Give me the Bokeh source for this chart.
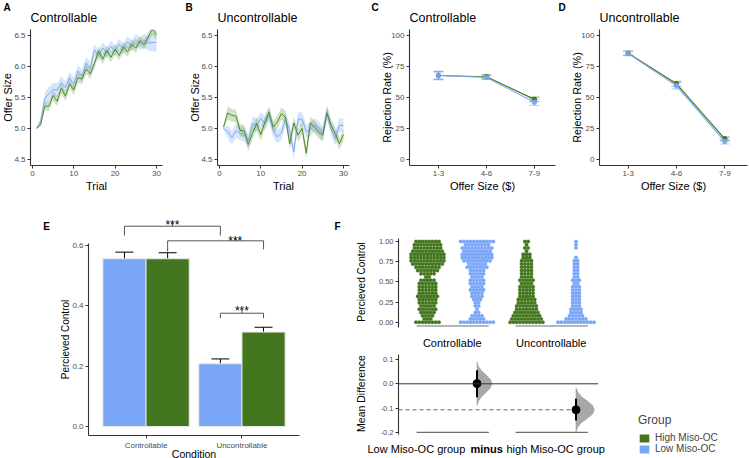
import math
from bokeh.plotting import figure
from bokeh.models import (Range1d, FixedTicker, Whisker, TeeHead, Span, Legend, LegendItem,
                          ColumnDataSource, PrintfTickFormatter, Spacer)
from bokeh.layouts import row, column
from bokeh.core.properties import value, field
from bokeh.embed import file_html
from bokeh.resources import INLINE

# ---------------- data ----------------
trials = list(range(1, 31))
ctrl_high = [5.00, 5.06, 5.36, 5.36, 5.53, 5.44, 5.65, 5.52, 5.72, 5.62,
             5.82, 5.80, 5.96, 5.88, 6.05, 6.25, 6.12, 6.26, 6.15, 6.28,
             6.18, 6.32, 6.24, 6.36, 6.30, 6.42, 6.35, 6.48, 6.60, 6.52]
ctrl_high_se = [0.01, 0.03, 0.07, 0.08, 0.08, 0.08, 0.08, 0.08, 0.08, 0.08,
                0.08, 0.08, 0.08, 0.08, 0.08, 0.08, 0.08, 0.08, 0.08, 0.08,
                0.08, 0.08, 0.08, 0.08, 0.08, 0.08, 0.08, 0.08, 0.08, 0.08]
ctrl_low = [5.00, 5.12, 5.48, 5.56, 5.63, 5.62, 5.74, 5.66, 5.82, 5.72,
            5.93, 5.85, 6.06, 5.97, 6.27, 6.17, 6.30, 6.22, 6.33, 6.25,
            6.36, 6.28, 6.40, 6.33, 6.44, 6.37, 6.42, 6.38, 6.39, 6.39]
ctrl_low_se = [0.01, 0.04, 0.10, 0.11, 0.11, 0.11, 0.10, 0.10, 0.10, 0.10,
               0.10, 0.10, 0.10, 0.10, 0.09, 0.09, 0.09, 0.09, 0.09, 0.09,
               0.09, 0.09, 0.09, 0.09, 0.09, 0.10, 0.11, 0.12, 0.14, 0.15]
unc_high = [5.02, 5.25, 5.21, 5.20, 4.97, 4.96, 4.74, 4.92, 5.08, 4.90,
            5.10, 5.26, 5.02, 5.10, 5.24, 5.18, 4.75, 5.09, 4.89, 5.00,
            4.60, 5.09, 5.02, 4.94, 4.89, 5.25, 5.05, 4.92, 4.75, 4.90]
unc_high_se = [0.02, 0.11, 0.10, 0.10, 0.10, 0.10, 0.10, 0.10, 0.10, 0.10,
               0.10, 0.10, 0.10, 0.10, 0.10, 0.10, 0.10, 0.10, 0.10, 0.10,
               0.10, 0.10, 0.10, 0.10, 0.10, 0.10, 0.10, 0.10, 0.10, 0.10]
unc_low = [5.00, 4.95, 4.85, 4.96, 4.92, 4.90, 4.80, 5.08, 5.05, 5.16,
           5.08, 5.22, 4.98, 4.86, 4.93, 5.15, 4.96, 4.62, 5.15, 5.15,
           4.95, 4.98, 5.06, 5.00, 4.92, 5.28, 5.00, 4.83, 5.05, 5.05]
unc_low_se = [0.02, 0.10, 0.11, 0.11, 0.11, 0.11, 0.11, 0.11, 0.11, 0.11,
              0.11, 0.11, 0.11, 0.11, 0.11, 0.11, 0.11, 0.11, 0.11, 0.11,
              0.11, 0.11, 0.11, 0.11, 0.11, 0.11, 0.11, 0.11, 0.11, 0.11]

offer_bins = ["1-3", "4-6", "7-9"]
rej_ctrl_high = [67.8, 66.8, 48.5]
rej_ctrl_high_err = [3.3, 1.8, 1.8]
rej_ctrl_low = [67.8, 66.2, 46.2]
rej_ctrl_low_err = [2.8, 1.5, 2.5]
rej_unc_high = [85.8, 61.1, 16.6]
rej_unc_high_err = [1.8, 2.0, 1.5]
rej_unc_low = [85.6, 59.5, 14.4]
rej_unc_low_err = [1.8, 2.5, 2.0]

conditions = ["Controllable", "Uncontrollable"]
pc_low = [0.556, 0.208]
pc_low_lo = [0.536, 0.193]
pc_low_hi = [0.578, 0.224]
pc_high = [0.556, 0.313]
pc_high_lo = [0.536, 0.294]
pc_high_hi = [0.576, 0.329]

# significance brackets (E)
br_left = [0.775, 1.225, 1.775]
br_right = [1.775, 2.225, 2.225]
br_mid = [1.275, 1.93, 2.0]
br_top = [0.664, 0.6155, 0.3755]
br_tick = [0.677, 0.6255, 0.3868]
br_leg_left = [0.633, 0.580, 0.359]
br_leg_right = [0.633, 0.587, 0.359]
br_label = ["***", "***", "***"]
br_label_y = [0.667, 0.6165, 0.382]

groups = ["High Miso-OC", "Low Miso-OC"]

# swarm (F top): counts of responses per perceived-control level
pc_levels = [0.00, 0.04, 0.08, 0.12, 0.16, 0.20, 0.24, 0.28, 0.32, 0.36, 0.40, 0.44, 0.48,
             0.52, 0.56, 0.60, 0.64, 0.68, 0.72, 0.76, 0.80, 0.84, 0.88, 0.92, 0.96, 1.00]
sw_ctrl_high = [8, 3, 4, 5, 6, 5, 6, 6, 7, 6, 6, 6, 6, 5, 2, 5, 7, 8, 10, 11, 11, 11, 10, 9, 9, 8]
sw_ctrl_low = [11, 5, 4, 2, 1, 2, 2, 3, 4, 4, 5, 4, 5, 5, 4, 5, 5, 7, 6, 9, 10, 10, 9, 10, 8, 11]
sw_unc_high = [11, 10, 9, 8, 7, 7, 6, 6, 5, 5, 5, 5, 4, 5, 4, 4, 4, 4, 4, 4, 3, 3, 1, 2, 1, 2]
sw_unc_low = [12, 7, 5, 4, 4, 3, 3, 3, 3, 3, 3, 3, 2, 3, 2, 2, 2, 2, 2, 2, 1, 0, 0, 1, 1, 1]

# estimation plot (F bottom)
md_labels = ["Controllable", "Uncontrollable"]
md_value = [0.001, -0.107]
md_lo = [-0.055, -0.151]
md_hi = [0.056, -0.062]
violin_offsets = [-0.09, -0.072, -0.054, -0.036, -0.018, 0.0, 0.018, 0.036, 0.054, 0.072, 0.09]
violin_ctrl = [0.0, 0.1, 0.3, 0.62, 0.9, 1.0, 0.9, 0.6, 0.28, 0.08, 0.0]
violin_unc = [0.0, 0.08, 0.28, 0.6, 0.9, 1.0, 0.9, 0.62, 0.3, 0.1, 0.0]

# ---------------- style ----------------
FONT = "Liberation Sans"
GREEN = "#43761F"
BLUE = "#79A6F7"
GREEN_LINE = "#4F8A2C"
BLUE_LINE = "#7FA9F2"
GREEN_RIB = "#64A03C"
BLUE_RIB = "#78A5F5"
AXC = "#333333"
TICKC = "#4D4D4D"
PAGE_W, PAGE_H = 749, 458

# free texts (titles, panel tags, axis titles) collected for a text layer
T = dict(x=[], y=[], text=[], size=[], style=[], angle=[], align=[])


def txt(px, py, text, size, bold=False, angle=0.0, align="center"):
    T["x"].append(px)
    T["y"].append(py)
    T["text"].append(text)
    T["size"].append(f"{size}px")
    T["style"].append("bold" if bold else "normal")
    T["angle"].append(angle)
    T["align"].append(align)


def base_fig(x0, y0, w, h, frame, xr, yr, xaxis=True, yaxis=True):
    fl, ft, fr, fb = frame
    p = figure(width=w, height=h, x_range=xr, y_range=yr, title=None,
               output_backend="svg", toolbar_location=None,
               min_border_left=fl - x0, min_border_top=ft - y0,
               min_border_right=x0 + w - fr, min_border_bottom=y0 + h - fb,
               x_axis_location="below" if xaxis else None,
               y_axis_location="left" if yaxis else None)
    p.xgrid.visible = False
    p.ygrid.visible = False
    p.outline_line_color = None
    p.background_fill_color = "white"
    p.border_fill_color = "white"
    return p


def style_axis(ax, ticks, fmt=None, overrides=None, size="8px", color=TICKC):
    ax.ticker = FixedTicker(ticks=ticks)
    if fmt:
        ax.formatter = PrintfTickFormatter(format=fmt)
    if overrides:
        ax.major_label_overrides = overrides
    ax.axis_line_color = AXC
    ax.axis_line_width = 1.1
    ax.major_tick_line_color = AXC
    ax.major_tick_out = 3
    ax.major_tick_in = 0
    ax.minor_tick_line_color = None
    ax.major_label_text_font = FONT
    ax.major_label_text_font_size = size
    ax.major_label_text_color = color
    ax.major_label_standoff = 2


def trial_panel(x0, w, frame, title, tag, tagx, low, low_se, high, high_se):
    p = base_fig(x0, 0, w, 192, frame, Range1d(-0.45, 31.45), Range1d(4.4, 6.6))
    p.varea(x=trials, y1=[m - s for m, s in zip(low, low_se)],
            y2=[m + s for m, s in zip(low, low_se)], fill_color=BLUE_RIB, fill_alpha=0.3)
    p.varea(x=trials, y1=[m - s for m, s in zip(high, high_se)],
            y2=[m + s for m, s in zip(high, high_se)], fill_color=GREEN_RIB, fill_alpha=0.3)
    p.line(trials, low, line_color=BLUE_LINE, line_width=1)
    p.line(trials, high, line_color=GREEN_LINE, line_width=1)
    style_axis(p.xaxis[0], [0, 10, 20, 30])
    style_axis(p.yaxis[0], [4.5, 5.0, 5.5, 6.0, 6.5], fmt="%.1f")
    fl, ft, frr, fb = frame
    txt(tagx, 6.5, tag, 10, bold=True)
    txt(fl, 17, title, 12.5, align="left")
    txt(fl - 23, (ft + fb) / 2, "Offer Size", 11, angle=math.pi / 2)
    txt((fl + frr) / 2, 185, "Trial", 11)
    return p


def rej_panel(x0, w, frame, xr, title, tag, tagx, high, high_err, low, low_err):
    p = base_fig(x0, 0, w, 192, frame, xr, Range1d(-5, 105))
    xs = [i + 1 for i in range(len(offer_bins))]
    for vals, errs, col, alpha in ((high, high_err, GREEN, 1.0), (low, low_err, BLUE, 0.9)):
        src = ColumnDataSource(dict(x=xs, lo=[v - e for v, e in zip(vals, errs)],
                                    hi=[v + e for v, e in zip(vals, errs)]))
        p.add_layout(Whisker(source=src, base="x", lower="lo", upper="hi",
                             line_color=col, line_alpha=0.5, line_width=1.2,
                             upper_head=TeeHead(size=10, line_color=col, line_alpha=0.5, line_width=1.2),
                             lower_head=TeeHead(size=10, line_color=col, line_alpha=0.5, line_width=1.2)))
        p.line(xs, vals, line_color=col, line_width=1.2, line_alpha=alpha)
        p.scatter(xs, vals, size=4.5, fill_color=col, line_color=col, alpha=alpha)
    style_axis(p.xaxis[0], xs, overrides={i + 1: b for i, b in enumerate(offer_bins)})
    style_axis(p.yaxis[0], [0, 25, 50, 75, 100])
    fl, ft, frr, fb = frame
    txt(tagx, 6.5, tag, 10, bold=True)
    txt(fl, 17, title, 12.5, align="left")
    txt(fl - 22.5, (ft + fb) / 2, "Rejection Rate (%)", 10.8, angle=math.pi / 2)
    txt((fl + frr) / 2, 185, "Offer Size ($)", 11)
    return p


pA = trial_panel(0, 180, (30, 29, 162, 165), "Controllable", "A", 6.5,
                 ctrl_low, ctrl_low_se, ctrl_high, ctrl_high_se)
pB = trial_panel(180, 185, (217, 29, 349, 165), "Uncontrollable", "B", 188.5,
                 unc_low, unc_low_se, unc_high, unc_high_se)
pC = rej_panel(365, 192, (409, 29, 555, 165), Range1d(0.396, 3.44), "Controllable", "C", 374.5,
               rej_ctrl_high, rej_ctrl_high_err, rej_ctrl_low, rej_ctrl_low_err)
pD = rej_panel(557, 192, (599, 29, 747, 165), Range1d(0.406, 3.47), "Uncontrollable", "D", 561.5,
               rej_unc_high, rej_unc_high_err, rej_unc_low, rej_unc_low_err)

# ---------------- E ----------------
pE = base_fig(0, 192, 305, 266, (88, 205, 299, 435), Range1d(0.4, 2.6), Range1d(-0.0298, 0.7326))
cx = [i + 1 for i in range(len(conditions))]
bw = 0.45
xl = [c - bw / 2 for c in cx]
xh = [c + bw / 2 for c in cx]
pE.vbar(x=xl, top=pc_low, bottom=0, width=bw, fill_color=BLUE, line_color="#E6E6E6", line_width=1)
pE.vbar(x=xh, top=pc_high, bottom=0, width=bw, fill_color=GREEN, line_color="#E6E6E6", line_width=1)
for xs_, lo, hi in ((xl, pc_low_lo, pc_low_hi), (xh, pc_high_lo, pc_high_hi)):
    src = ColumnDataSource(dict(x=xs_, lo=lo, hi=hi))
    pE.add_layout(Whisker(source=src, base="x", lower="lo", upper="hi", line_color="black", line_width=1,
                          upper_head=TeeHead(size=18, line_color="black", line_width=1),
                          lower_head=TeeHead(size=18, line_color="black", line_width=1)))
bxs, bys = [], []
for a, b, t, ll, lr in zip(br_left, br_right, br_top, br_leg_left, br_leg_right):
    bxs.append([a, a, b, b])
    bys.append([ll, t, t, lr])
pE.multi_line(bxs, bys, line_color="#555555", line_width=1)
pE.segment(x0=br_mid, y0=br_top, x1=br_mid, y1=br_tick, line_color="#555555", line_width=1)
pE.text(x=br_mid, y=br_label_y, text=br_label, text_font=value(FONT), text_font_size="12px",
        text_align="center", text_baseline="alphabetic", text_color="black")
style_axis(pE.xaxis[0], cx, overrides={c: n for c, n in zip(cx, conditions)})
style_axis(pE.yaxis[0], [0.0, 0.2, 0.4, 0.6], fmt="%.1f")
pE.yaxis[0].bounds = (-0.0298, 0.6066)
txt(46, 225.5, "E", 10, bold=True)
txt(64.5, 339, "Percieved Control", 10, angle=math.pi / 2)
txt(193.5, 453, "Condition", 10.5)

# ---------------- F top ----------------
xr_F = (-0.5859, 3.4545)
pFt = base_fig(305, 192, 305, 160, (398, 238, 598, 327), Range1d(*xr_F), Range1d(-0.0657, 1.0372))
dx = 0.066
for gx, counts, col in ((0, sw_ctrl_high, GREEN), (1, sw_ctrl_low, BLUE),
                        (2, sw_unc_high, GREEN), (3, sw_unc_low, BLUE)):
    sx, sy = [], []
    for v, n in zip(pc_levels, counts):
        for k in range(n):
            sx.append(gx + (k - (n - 1) / 2) * dx)
            sy.append(v)
    pFt.scatter(sx, sy, size=3.6, fill_color=col, line_color=col, line_width=0.3)
pad_l, pad_r = 0.22, 0.24
pFt.segment(x0=[0 - pad_l, 2 - pad_l], y0=[-0.047, -0.047], x1=[1 + pad_r, 3 + pad_r], y1=[-0.047, -0.047],
            line_color="#6E6E6E", line_width=1.2)
style_axis(pFt.yaxis[0], [0.0, 0.25, 0.5, 0.75, 1.0], fmt="%.2f", size="7.5px")
axF = pFt.xaxis[0]
style_axis(axF, [0.5, 2.5], overrides={0.5: md_labels[0], 2.5: md_labels[1]}, size="11px", color="black")
axF.axis_line_color = None
axF.major_tick_line_color = None
axF.major_tick_out = 0
axF.major_label_standoff = 9
txt(337, 225.5, "F", 10, bold=True)
txt(361, 281.5, "Percieved Control", 10, angle=math.pi / 2)

# ---------------- F bottom ----------------
pFb = base_fig(305, 352, 305, 106, (398, 354, 598, 434), Range1d(*xr_F), Range1d(-0.2086, 0.1206),
               xaxis=False)
mdx = [1, 3]
for x_, m_, prof, wmax in ((mdx[0], md_value[0], violin_ctrl, 0.30), (mdx[1], md_value[1], violin_unc, 0.37)):
    vx = [x_ + wmax * w for w in prof] + [x_, x_]
    vy = [m_ + o for o in violin_offsets] + [m_ + violin_offsets[-1], m_ + violin_offsets[0]]
    pFb.patch(vx, vy, fill_color="#A8A8A8", line_color="#9A9A9A", line_width=0.6)
pFb.add_layout(Span(location=0, dimension="width", line_color="#333333", line_width=1))
pFb.segment(x0=[xr_F[0]], y0=[md_value[1]], x1=[mdx[1]], y1=[md_value[1]], line_color="#666666",
            line_width=1, line_dash="4 3")
pFb.segment(x0=mdx, y0=md_lo, x1=mdx, y1=md_hi, line_color="black", line_width=2)
pFb.scatter(mdx, md_value, size=8, fill_color="black", line_color="black")
pFb.segment(x0=[0 - pad_l, 2 - pad_l], y0=[-0.2, -0.2], x1=[1 + pad_r, 3 + pad_r], y1=[-0.2, -0.2],
            line_color="#6E6E6E", line_width=1.2)
style_axis(pFb.yaxis[0], [-0.2, -0.1, 0.0, 0.1], fmt="%.1f", size="7.5px")
txt(360.5, 393, "Mean Difference", 10.5, angle=math.pi / 2)
txt(367, 448, "Low Miso-OC group", 11, align="left")
txt(470, 448, "minus", 11, bold=True, align="left")
txt(506, 448, "high Miso-OC group", 11, align="left")

# ---------------- legend ----------------
pL = base_fig(610, 404, 139, 54, (638, 413, 749, 458), Range1d(0, 1), Range1d(0, 1),
              xaxis=False, yaxis=False)
r_high = pL.vbar(x=[5], top=[1], width=0.1, fill_color=GREEN, line_color=None)
r_low = pL.vbar(x=[5], top=[1], width=0.1, fill_color=BLUE, line_color=None)
leg = Legend(items=[LegendItem(label=groups[0], renderers=[r_high]),
                    LegendItem(label=groups[1], renderers=[r_low])],
             location="top_left", title="Group", orientation="vertical",
             margin=0, padding=0, spacing=0, glyph_width=12, glyph_height=10,
             label_height=10, label_standoff=5, title_standoff=5,
             border_line_color=None, background_fill_color=None,
             label_text_font=FONT, label_text_font_size="10px",
             title_text_font=FONT, title_text_font_size="12px", title_text_font_style="normal")
pL.add_layout(leg)

# ---------------- text layer over the whole page ----------------
ov = figure(width=PAGE_W, height=PAGE_H, x_range=Range1d(0, PAGE_W), y_range=Range1d(PAGE_H, 0),
            title=None, output_backend="svg", toolbar_location=None,
            x_axis_location=None, y_axis_location=None, min_border=0)
ov.grid.visible = False
ov.outline_line_color = None
ov.background_fill_color = None
ov.border_fill_color = None
ov.text(x="x", y="y", text="text", source=ColumnDataSource(T), text_font=value(FONT),
        text_font_size=field("size"), text_font_style=field("style"), angle=field("angle"),
        text_align=field("align"), text_baseline="middle", text_color="black")
ov.margin = (-PAGE_H, 0, 0, 0)

root = column(row(pA, pB, pC, pD),
              row(pE, column(pFt, pFb), column(Spacer(width=139, height=212), pL)),
              ov)

open("out.html", "w").write(file_html(root, INLINE))
